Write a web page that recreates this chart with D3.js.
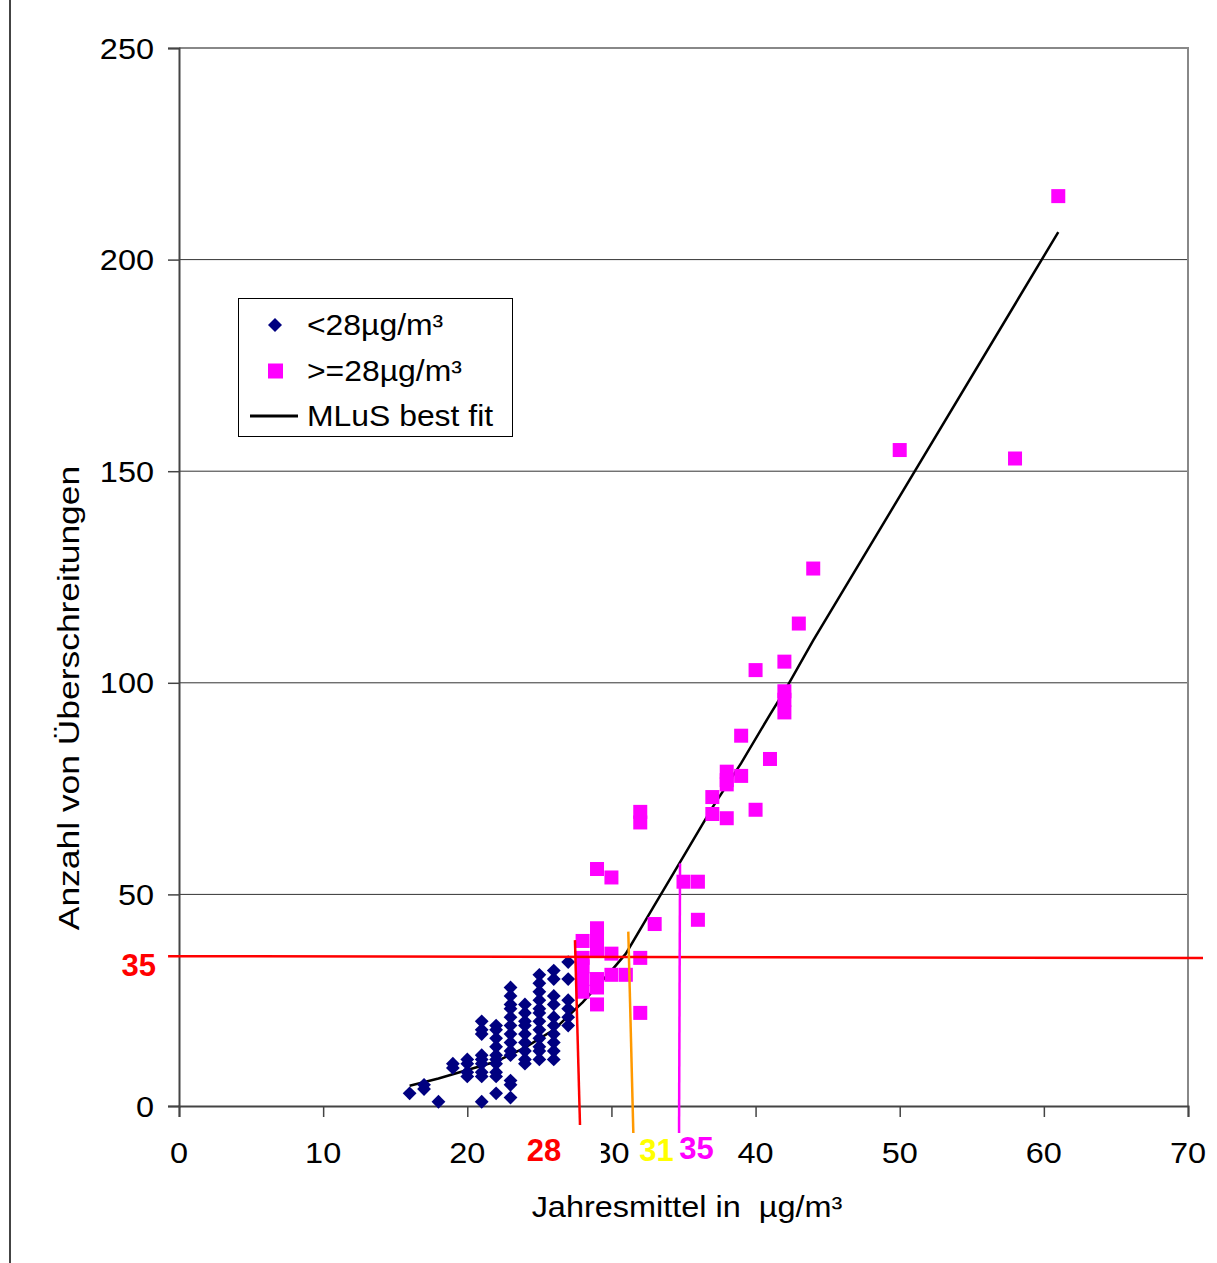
<!DOCTYPE html>
<html>
<head>
<meta charset="utf-8">
<script src="https://cdn.jsdelivr.net/npm/d3@7"></script>
<style>
  body { margin: 0; background: #fff; }
  svg { display: block; font-family: "Liberation Sans", Arial, sans-serif; }
</style>
</head>
<body>
<div id="graph"></div>
<script>
// stations below 28 µg/m³ : [annual mean, number of exceedances]
const lowPoints = [
  [16, 3], [17, 4], [17, 5], [18, 1], [19, 9], [19, 10],
  [20, 7], [20, 8], [20, 10], [20, 11],
  [21, 1], [21, 7], [21, 8], [21, 10], [21, 11], [21, 12], [21, 17], [21, 18], [21, 20],
  [22, 3], [22, 7], [22, 8], [22, 10], [22, 11], [22, 12], [22, 14], [22, 16], [22, 18], [22, 19],
  [23, 2], [23, 5], [23, 6], [23, 12], [23, 13], [23, 15], [23, 17], [23, 19], [23, 21], [23, 23], [23, 24], [23, 26], [23, 28],
  [24, 10], [24, 11], [24, 13], [24, 15], [24, 17], [24, 19], [24, 20], [24, 22], [24, 24],
  [25, 11], [25, 13], [25, 14], [25, 16], [25, 18], [25, 20], [25, 22], [25, 23], [25, 25], [25, 27], [25, 29], [25, 31],
  [26, 11], [26, 13], [26, 15], [26, 17], [26, 19], [26, 21], [26, 24], [26, 26], [26, 30], [26, 32],
  [27, 19], [27, 21], [27, 23], [27, 25], [27, 30], [27, 34]
];

// stations at or above 28 µg/m³
const highPoints = [
  [28, 27], [28, 30], [28, 33], [28, 35], [28, 39],
  [29, 24], [29, 28], [29, 30], [29, 37], [29, 38], [29, 40], [29, 42], [29, 56],
  [30, 31], [30, 36], [30, 54], [31, 31],
  [32, 22], [32, 35], [32, 67], [32, 69.5], [33, 43],
  [35, 53], [36, 44], [36, 53], [37, 69], [37, 73],
  [38, 68], [38, 76], [38, 77], [38, 79], [39, 78], [39, 87.5],
  [40, 70], [40, 103], [41, 82], [42, 93], [42, 96], [42, 98], [42, 105],
  [43, 114], [44, 127], [50, 155], [58, 153], [61, 215]
];

// MLuS best fit curve
const fitPoints = [
  [16, 4.8], [18, 6.5], [20, 8.5], [22, 10.5], [24, 13.8], [26, 18], [28, 24.5],
  [30, 32], [31, 36], [33, 47.5], [35, 59], [37, 70.5], [39, 81], [41, 92.5],
  [42, 98], [44, 110], [61, 206.5]
];

// threshold marker lines [x1, y1, x2, y2]
const limitLine35 = [-0.76, 35.4, 71.04, 34.97];
const markerLines = [
  { pts: [27.47, 39.2, 27.82, -4.5], color: '#ff0000' },
  { pts: [31.17, 41.2, 31.52, -6.4], color: '#ff9900' },
  { pts: [34.76, 57.3, 34.69, -6.4], color: '#ff00ff' }
];
const markerLabels = [
  { text: '28', x: 25.32, color: '#ff0000' },
  { text: '31', x: 33.13, color: '#ffff00' },
  { text: '35', x: 35.9, color: '#ff00ff' }
];

const xTicks = [0, 10, 20, 30, 40, 50, 60, 70];
const yTicks = [0, 50, 100, 150, 200, 250];
const gridValues = [50, 100, 150, 200];

const legendItems = [
  { label: '<28µg/m³', type: 'diamond' },
  { label: '>=28µg/m³', type: 'square' },
  { label: 'MLuS best fit', type: 'line' }
];

const width = 1217, height = 1263;
const plot = { left: 179, right: 1188, top: 48, bottom: 1106 };
const stretch = 1.1; // the original text is a bit wider than Arial

const svg = d3.select('#graph').append('svg')
  .attr('width', width)
  .attr('height', height);

const x = d3.scaleLinear().domain([0, 70]).range([plot.left, plot.right]);
const y = d3.scaleLinear().domain([0, 250]).range([plot.bottom, plot.top]);

// wide text helper
function wideText(parent, tx, ty, str, anchor, size) {
  return parent.append('text')
    .attr('transform', `translate(${tx},${ty}) scale(${stretch},1)`)
    .attr('text-anchor', anchor)
    .style('font-size', size + 'px')
    .text(str);
}

// outer frame line on the left
svg.append('line')
  .attr('x1', 10).attr('x2', 10).attr('y1', 0).attr('y2', height)
  .attr('stroke', '#444').attr('stroke-width', 2);

// grid lines
svg.append('g').selectAll('line')
  .data(gridValues)
  .enter().append('line')
  .attr('x1', plot.left).attr('x2', plot.right)
  .attr('y1', d => y(d)).attr('y2', d => y(d))
  .attr('stroke', '#333').attr('stroke-width', 1);

// plot frame top + right
svg.append('path')
  .attr('d', `M${plot.left},${plot.top}H${plot.right}V${plot.bottom}`)
  .attr('fill', 'none').attr('stroke', '#888').attr('stroke-width', 2);

// axes
const yAxis = d3.axisLeft(y).tickValues(yTicks).tickSize(11).tickFormat('');
const yg = svg.append('g')
  .attr('transform', `translate(${plot.left},0)`)
  .call(yAxis);

const xAxis = d3.axisBottom(x).tickValues(xTicks).tickSize(11).tickFormat('');
const xg = svg.append('g')
  .attr('transform', `translate(0,${plot.bottom})`)
  .call(xAxis);

[yg, xg].forEach(g => {
  g.select('.domain').attr('stroke', '#444').attr('stroke-width', 2);
  g.selectAll('.tick line').attr('stroke', '#444').attr('stroke-width', 1.5);
});

// tick labels
yTicks.forEach(v => wideText(svg, 154, y(v) + 10.5, d3.format('d')(v), 'end', 29.5));
xTicks.forEach(v => wideText(svg, x(v), 1163, d3.format('d')(v), 'middle', 29.5));

// axis titles
svg.append('text')
  .attr('transform', 'translate(79,698) rotate(-90) scale(1.2,1)')
  .attr('text-anchor', 'middle')
  .style('font-size', '29.5px')
  .text('Anzahl von Überschreitungen');

wideText(svg, 687, 1217, 'Jahresmittel in  µg/m³', 'middle', 29.5)
  .attr('xml:space', 'preserve')
  .style('white-space', 'pre');

// best fit
const line = d3.line().x(d => x(d[0])).y(d => y(d[1]));
svg.append('path')
  .datum(fitPoints)
  .attr('d', line)
  .attr('fill', 'none')
  .attr('stroke', '#000')
  .attr('stroke-width', 2.5);

// points
const diamond = 'M0,-6.9L6.9,0L0,6.9L-6.9,0Z';
svg.append('g').selectAll('path')
  .data(lowPoints)
  .enter().append('path')
  .attr('d', diamond)
  .attr('transform', d => `translate(${x(d[0])},${y(d[1])})`)
  .attr('fill', '#000080');

svg.append('g').selectAll('rect')
  .data(highPoints)
  .enter().append('rect')
  .attr('x', d => x(d[0]) - 7)
  .attr('y', d => y(d[1]) - 7)
  .attr('width', 14).attr('height', 14)
  .attr('fill', '#ff00ff');

// limit lines
svg.append('line')
  .attr('x1', x(limitLine35[0])).attr('y1', y(limitLine35[1]))
  .attr('x2', x(limitLine35[2])).attr('y2', y(limitLine35[3]))
  .attr('stroke', '#ff0000').attr('stroke-width', 2.5);

svg.append('g').selectAll('line')
  .data(markerLines)
  .enter().append('line')
  .attr('x1', d => x(d.pts[0])).attr('y1', d => y(d.pts[1]))
  .attr('x2', d => x(d.pts[2])).attr('y2', d => y(d.pts[3]))
  .attr('stroke', d => d.color).attr('stroke-width', 2.5);

// white box behind the "28" label (clips the 30 tick label a little)
svg.append('rect')
  .attr('x', x(25.32) - 24).attr('y', 1134)
  .attr('width', 81).attr('height', 34)
  .attr('fill', '#fff');

svg.append('g').selectAll('text')
  .data(markerLabels)
  .enter().append('text')
  .attr('x', d => x(d.x))
  .attr('y', (d, i) => i === 2 ? 1159 : 1161)
  .attr('text-anchor', 'middle')
  .attr('fill', d => d.color)
  .style('font-size', '31px')
  .style('font-weight', 'bold')
  .text(d => d.text);

svg.append('text')
  .attr('x', 156).attr('y', 976)
  .attr('text-anchor', 'end')
  .attr('fill', '#ff0000')
  .style('font-size', '31px')
  .style('font-weight', 'bold')
  .text('35');

// legend
const legend = svg.append('g').attr('transform', 'translate(238,298)');
legend.append('rect')
  .attr('x', 0.5).attr('y', 0.5)
  .attr('width', 274).attr('height', 138)
  .attr('fill', '#fff').attr('stroke', '#000').attr('stroke-width', 1);

const rows = legend.selectAll('.row')
  .data(legendItems)
  .enter().append('g')
  .attr('transform', (d, i) => `translate(0,${27 + i * 45.5})`);

rows.filter(d => d.type === 'diamond').append('path')
  .attr('d', 'M0,-7L7,0L0,7L-7,0Z')
  .attr('transform', 'translate(37,0)')
  .attr('fill', '#000080');
rows.filter(d => d.type === 'square').append('rect')
  .attr('x', 30).attr('y', -7).attr('width', 15).attr('height', 15)
  .attr('fill', '#ff00ff');
rows.filter(d => d.type === 'line').append('line')
  .attr('x1', 12).attr('x2', 60).attr('y1', 0).attr('y2', 0)
  .attr('stroke', '#000').attr('stroke-width', 3);

rows.each(function(d) {
  wideText(d3.select(this), 69, 10, d.label, 'start', 29);
});
</script>
</body>
</html>
